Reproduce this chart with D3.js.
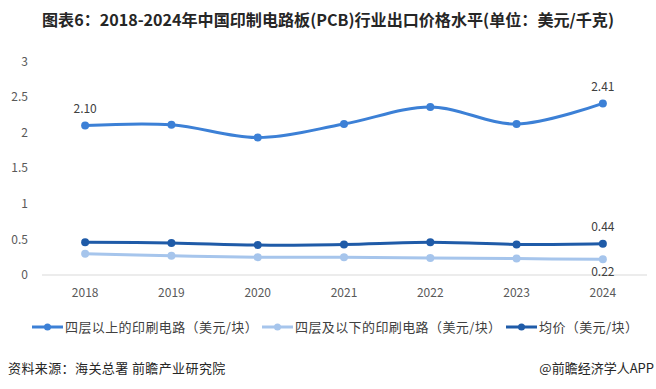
<!DOCTYPE html>
<html>
<head>
<meta charset="utf-8">
<script src="https://cdn.jsdelivr.net/npm/d3@7"></script>
<style>
  body { margin: 0; background: #fff; }
  text { font-family: "Noto Sans CJK SC", "Noto Sans", sans-serif; }
</style>
</head>
<body>
<svg width="656" height="389"></svg>
<script>
// chart data
var years = ["2018", "2019", "2020", "2021", "2022", "2023", "2024"];
var above4 = [2.10, 2.11, 1.93, 2.12, 2.36, 2.12, 2.41];
var below4 = [0.30, 0.27, 0.25, 0.25, 0.24, 0.23, 0.22];
var avgPrice = [0.46, 0.45, 0.42, 0.43, 0.46, 0.43, 0.44];
var yTicks = [0, 0.5, 1, 1.5, 2, 2.5, 3];
var seriesNames = ["四层以上的印刷电路（美元/块）", "四层及以下的印刷电路（美元/块）", "均价（美元/块）"];

var svg = d3.select("svg");

var series = [
    {name: seriesNames[0], values: above4, color: "#3C80D6", labels: {0: "above", 6: "above"}},
    {name: seriesNames[1], values: below4, color: "#A6C5EC", labels: {6: "below"}},
    {name: seriesNames[2], values: avgPrice, color: "#1F5BA8", labels: {6: "above"}}
];

var x = d3.scaleBand()
    .domain(years)
    .range([42, 646]);

var y = d3.scaleLinear()
    .domain([0, 3])
    .range([275, 61.4]);

// title
svg.append("text")
    .attr("x", 328)
    .attr("y", 26)
    .attr("text-anchor", "middle")
    .attr("textLength", 572)
    .attr("lengthAdjust", "spacingAndGlyphs")
    .style("font-size", "16px")
    .style("font-weight", "bold")
    .attr("fill", "#262626")
    .text("图表6：2018-2024年中国印制电路板(PCB)行业出口价格水平(单位：美元/千克)");

// x axis baseline
svg.append("line")
    .attr("x1", 42)
    .attr("x2", 647)
    .attr("y1", y(0))
    .attr("y2", y(0))
    .attr("stroke", "#D9D9D9")
    .attr("stroke-width", 1);

// y tick labels
svg.append("g")
    .selectAll("text")
    .data(yTicks)
    .enter()
    .append("text")
    .attr("x", 28)
    .attr("y", function(d) { return y(d); })
    .attr("dy", "0.35em")
    .attr("text-anchor", "end")
    .style("font-size", "12px")
    .attr("fill", "#595959")
    .text(function(d) { return d; });

// x tick labels
svg.append("g")
    .selectAll("text")
    .data(years)
    .enter()
    .append("text")
    .attr("x", function(d) { return x(d) + x.bandwidth() / 2; })
    .attr("y", 293)
    .attr("dy", "0.35em")
    .attr("text-anchor", "middle")
    .style("font-size", "12px")
    .attr("fill", "#595959")
    .text(function(d) { return d; });

var line = d3.line()
    .x(function(d, i) { return x(years[i]) + x.bandwidth() / 2; })
    .y(function(d) { return y(d); })
    .curve(d3.curveCatmullRom.alpha(0.5));

// draw lines, points and labels
series.forEach(function(s) {
    var g = svg.append("g");

    g.append("path")
        .datum(s.values)
        .attr("d", line)
        .attr("fill", "none")
        .attr("stroke", s.color)
        .attr("stroke-width", 3);

    g.selectAll("circle")
        .data(s.values)
        .enter()
        .append("circle")
        .attr("cx", function(d, i) { return x(years[i]) + x.bandwidth() / 2; })
        .attr("cy", function(d) { return y(d); })
        .attr("r", 4)
        .attr("fill", s.color);

    g.selectAll("text")
        .data(s.values.map(function(v, i) { return {v: v, i: i}; })
            .filter(function(d) { return s.labels[d.i]; }))
        .enter()
        .append("text")
        .attr("x", function(d) { return x(years[d.i]) + x.bandwidth() / 2; })
        .attr("y", function(d) {
            return s.labels[d.i] === "above" ? y(d.v) - 16.5 : y(d.v) + 12.5;
        })
        .attr("dy", "0.35em")
        .attr("text-anchor", "middle")
        .style("font-size", "12px")
        .attr("fill", "#404040")
        .text(function(d) { return d.v.toFixed(2); });
});

// legend
var legendX = [32, 262, 506];
var legend = svg.selectAll(".legend")
    .data(series)
    .enter()
    .append("g")
    .attr("class", "legend")
    .attr("transform", function(d, i) { return "translate(" + legendX[i] + ",327)"; });

legend.append("line")
    .attr("x1", 0)
    .attr("x2", 31)
    .attr("stroke", function(d) { return d.color; })
    .attr("stroke-width", 3);

legend.append("circle")
    .attr("cx", 15.5)
    .attr("r", 3.5)
    .attr("fill", function(d) { return d.color; });

legend.append("text")
    .attr("x", 33)
    .attr("dy", "0.35em")
    .style("font-size", "13px")
    .style("letter-spacing", "0.4px")
    .attr("fill", "#404040")
    .text(function(d) { return d.name; });

// source
svg.append("text")
    .attr("x", 8)
    .attr("y", 368)
    .attr("dy", "0.35em")
    .style("font-size", "13px")
    .style("letter-spacing", "0.4px")
    .attr("fill", "#262626")
    .text("资料来源：海关总署 前瞻产业研究院");

svg.append("text")
    .attr("x", 654)
    .attr("y", 368)
    .attr("dy", "0.35em")
    .attr("text-anchor", "end")
    .style("font-size", "13px")
    .attr("fill", "#262626")
    .text("@前瞻经济学人APP");
</script>
</body>
</html>
